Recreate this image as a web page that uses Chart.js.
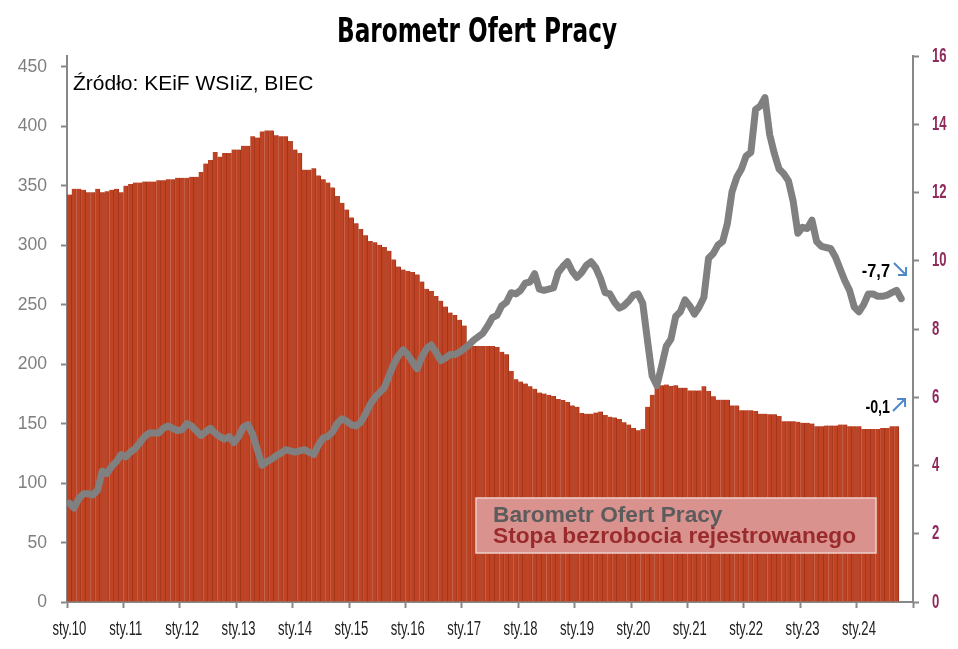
<!DOCTYPE html>
<html lang="pl">
<head>
<meta charset="utf-8">
<title>Barometr Ofert Pracy</title>
<script src="https://cdn.jsdelivr.net/npm/chart.js@4.4.1/dist/chart.umd.min.js"></script>
<style>
  html, body { margin: 0; padding: 0; background: #fff; }
  #wrap { width: 958px; height: 649px; }
</style>
</head>
<body>
<div id="wrap"><canvas id="chart" width="958" height="649"></canvas></div>
<script>
// miesiace od sty.2010, jeden wiersz = jeden rok
var firstYear = 2010;
var xTickLabels = ['sty.10', 'sty.11', 'sty.12', 'sty.13', 'sty.14', 'sty.15', 'sty.16', 'sty.17',
                   'sty.18', 'sty.19', 'sty.20', 'sty.21', 'sty.22', 'sty.23', 'sty.24'];
var leftTicks = [0, 50, 100, 150, 200, 250, 300, 350, 400, 450];
var rightTicks = [0, 2, 4, 6, 8, 10, 12, 14, 16];

// Barometr Ofert Pracy (lewa os)
var barometr = [
  83, 79, 87, 91, 91, 90, 94, 110, 108, 114, 118, 124,
  122, 126, 129, 134, 139, 142, 142, 142, 146, 148, 146, 144,
  145, 150, 148, 144, 140, 143, 146, 142, 139, 137, 139, 134,
  139, 147, 149, 141, 128, 115, 118, 120, 123, 125, 128, 127,
  126, 127, 128, 126, 124, 132, 138, 139, 143, 150, 154, 152,
  149, 148, 151, 158, 166, 172, 176, 180, 190, 200, 207, 212,
  208, 202, 196, 206, 213, 216, 210, 203, 205, 208, 208, 210,
  213, 216, 220, 223, 226, 232, 239, 241, 249, 252, 260, 259,
  262, 268, 269, 276, 263, 262, 263, 264, 277, 282, 286, 278,
  273, 277, 283, 286, 281, 272, 260, 259, 252, 247, 249, 253,
  258, 259, 251, 220, 190, 182, 198, 215, 221, 240, 244, 254,
  249, 242, 248, 256, 289, 293, 300, 303, 318, 345, 357, 364,
  375, 378, 414, 417, 424, 393, 377, 364, 360, 354, 337, 310,
  315, 314, 321, 303, 299, 298, 297, 290, 280, 270, 262, 248,
  244, 250, 259, 259, 257, 257, 258, 260, 262, 255
];

// Stopa bezrobocia rejestrowanego, % (prawa os)
var bezrobocie = [
  11.94, 12.11, 12.11, 12.08, 12.01, 12.01, 12.11, 12.01, 12.04, 12.08, 12.11, 12.01,
  12.20, 12.25, 12.29, 12.29, 12.32, 12.32, 12.32, 12.36, 12.36, 12.39, 12.39, 12.43,
  12.43, 12.43, 12.46, 12.46, 12.60, 12.85, 12.95, 13.19, 13.05, 13.16, 13.16, 13.26,
  13.26, 13.37, 13.37, 13.65, 13.61, 13.79, 13.82, 13.82, 13.68, 13.65, 13.65, 13.51,
  13.26, 13.16, 12.67, 12.67, 12.71, 12.50, 12.39, 12.29, 12.15, 11.90, 11.70, 11.50,
  11.27, 11.10, 10.93, 10.75, 10.58, 10.54, 10.47, 10.40, 10.29, 10.04, 9.83, 9.74,
  9.70, 9.67, 9.60, 9.39, 9.18, 9.11, 8.97, 8.83, 8.66, 8.48, 8.41, 8.27,
  8.10, 7.57, 7.50, 7.50, 7.50, 7.50, 7.50, 7.47, 7.33, 7.26, 6.77, 6.53,
  6.46, 6.40, 6.32, 6.25, 6.14, 6.11, 6.07, 6.04, 5.95, 5.92, 5.86, 5.76,
  5.72, 5.54, 5.52, 5.52, 5.55, 5.58, 5.48, 5.43, 5.41, 5.36, 5.27, 5.20,
  5.10, 5.03, 5.07, 5.72, 6.07, 6.32, 6.35, 6.37, 6.33, 6.35, 6.28, 6.28,
  6.20, 6.20, 6.20, 6.32, 6.18, 6.03, 5.93, 5.93, 5.93, 5.76, 5.76, 5.62,
  5.62, 5.62, 5.60, 5.52, 5.52, 5.50, 5.50, 5.45, 5.30, 5.30, 5.30, 5.28,
  5.25, 5.25, 5.23, 5.15, 5.15, 5.17, 5.17, 5.17, 5.20, 5.20, 5.15, 5.15,
  5.15, 5.07, 5.07, 5.07, 5.07, 5.10, 5.10, 5.15, 5.15
];

var seriesNames = ['Barometr Ofert Pracy', 'Stopa bezrobocia rejestrowanego'];
var changeLabels = ['-7,7', '-0,1'];   // zmiana m/m
var titleText = 'Barometr Ofert Pracy';
var sourceText = 'Źródło: KEiF WSIiZ, BIEC';

var SANS = '"Liberation Sans", Arial, sans-serif';

function toPoints(arr) {
    // punkt w srodku miesiaca
    return arr.map((v, i) => ({ x: i + 0.5, y: v }));
}

// tekst sciesniony w poziomie (brak waskiego fontu w systemie)
function narrowText(ctx, text, x, y, o) {
    ctx.save();
    ctx.font = o.font;
    ctx.fillStyle = o.color;
    ctx.textBaseline = o.baseline || 'middle';
    ctx.textAlign = 'left';
    var w = ctx.measureText(text).width * o.sx;
    var left = o.align === 'right' ? x - w : (o.align === 'center' ? x - w / 2 : x);
    ctx.translate(left, y);
    ctx.scale(o.sx, 1);
    ctx.fillText(text, 0, 0);
    ctx.restore();
}

function drawArrow(ctx, x1, y1, x2, y2) {
    var a = Math.atan2(y2 - y1, x2 - x1);
    ctx.save();
    ctx.strokeStyle = '#4f88c6';
    ctx.lineWidth = 2;
    ctx.beginPath();
    ctx.moveTo(x1, y1);
    ctx.lineTo(x2, y2);
    ctx.moveTo(x2 - 8 * Math.cos(a - 0.8), y2 - 8 * Math.sin(a - 0.8));
    ctx.lineTo(x2, y2);
    ctx.lineTo(x2 - 8 * Math.cos(a + 0.8), y2 - 8 * Math.sin(a + 0.8));
    ctx.stroke();
    ctx.restore();
}

var extras = {
    id: 'extras',
    afterDraw(chart) {
        var ctx = chart.ctx;
        var xs = chart.scales.x, ys = chart.scales.y, ys1 = chart.scales.y1;

        // etykiety osi
        xTickLabels.forEach((lab, k) => {
            narrowText(ctx, lab, xs.getPixelForValue(k * 12 + 0.5), 630,
                { font: '19.5px ' + SANS, color: '#222', sx: 0.67, align: 'center' });
        });
        leftTicks.forEach((v) => {
            narrowText(ctx, String(v), 47, ys.getPixelForValue(v),
                { font: '18.5px ' + SANS, color: '#7f7f7f', sx: 0.95, align: 'right' });
        });
        rightTicks.forEach((v) => {
            narrowText(ctx, String(v), 932, ys1.getPixelForValue(v),
                { font: 'bold 20.5px ' + SANS, color: '#8e2b5b', sx: 0.64, align: 'left' });
        });

        // tytul
        ctx.save();
        ctx.font = 'bold 34px "DejaVu Sans", ' + SANS;
        ctx.fillStyle = '#000';
        ctx.textBaseline = 'alphabetic';
        var w = ctx.measureText(titleText).width;
        ctx.translate(477, 42);
        ctx.scale(280 / w, 1);
        ctx.textAlign = 'center';
        ctx.fillText(titleText, 0, 0);
        ctx.restore();

        // zrodlo
        ctx.save();
        ctx.font = '21px ' + SANS;
        ctx.fillStyle = '#000';
        ctx.textAlign = 'left';
        ctx.fillText(sourceText, 73, 90);
        ctx.restore();

        // legenda
        ctx.save();
        ctx.fillStyle = '#d9928e';
        ctx.fillRect(476, 498, 400, 55);
        ctx.strokeStyle = '#efcfcc';
        ctx.lineWidth = 1.5;
        ctx.strokeRect(476, 498, 400, 55);
        ctx.font = 'bold 22.7px ' + SANS;
        ctx.textAlign = 'left';
        ctx.fillStyle = '#5c5c5c';
        ctx.fillText(seriesNames[0], 493, 522);
        ctx.fillStyle = '#9a2b2c';
        ctx.fillText(seriesNames[1], 493, 543);
        ctx.restore();

        // zmiany
        narrowText(ctx, changeLabels[0], 890, 277,
            { font: 'bold 19px ' + SANS, color: '#000', sx: 0.86, align: 'right', baseline: 'alphabetic' });
        narrowText(ctx, changeLabels[1], 890, 413,
            { font: 'bold 19px ' + SANS, color: '#000', sx: 0.75, align: 'right', baseline: 'alphabetic' });
        drawArrow(ctx, 894, 263, 906, 275);
        drawArrow(ctx, 893, 411, 905, 399);
    }
};

new Chart(document.getElementById('chart'), {
    type: 'bar',
    data: {
        datasets: [
            {
                type: 'line',
                label: seriesNames[0],
                data: toPoints(barometr),
                yAxisID: 'y',
                borderColor: '#808080',
                borderWidth: 7,
                borderJoinStyle: 'round',
                borderCapStyle: 'round',
                pointRadius: 0,
                tension: 0,
                order: 0
            },
            {
                type: 'bar',
                label: seriesNames[1],
                data: toPoints(bezrobocie),
                yAxisID: 'y1',
                backgroundColor: 'rgb(190, 67, 36)',
                borderColor: 'rgb(158, 50, 24)',
                borderWidth: { top: 0, right: 1, bottom: 0, left: 0 },
                barPercentage: 1,
                categoryPercentage: 1,
                order: 1
            }
        ]
    },
    options: {
        responsive: false,
        animation: false,
        devicePixelRatio: 1,
        layout: { padding: { top: 56, left: 0, right: 0, bottom: 0 } },
        plugins: {
            legend: { display: false },
            tooltip: { enabled: false }
        },
        scales: {
            x: {
                type: 'linear',
                min: 0,
                max: 180,
                offset: false,
                grid: { drawOnChartArea: false, tickLength: 6, tickWidth: 2, color: '#888', offset: false },
                border: { color: '#888', width: 2 },
                ticks: { stepSize: 12, autoSkip: false, display: false },
                afterFit: (s) => { s.height = 47; }
            },
            y: {
                position: 'left',
                min: 0,
                max: 459,
                grid: { drawOnChartArea: false, tickLength: 6, tickWidth: 2, color: '#888' },
                border: { color: '#888', width: 2 },
                ticks: { display: false },
                afterBuildTicks: (s) => { s.ticks = leftTicks.map(v => ({ value: v })); },
                afterFit: (s) => { s.width = 67; }
            },
            y1: {
                position: 'right',
                min: 0,
                max: 16,
                grid: { drawOnChartArea: false, tickLength: 6, tickWidth: 2, color: '#888' },
                border: { color: '#888', width: 2 },
                ticks: { display: false },
                afterBuildTicks: (s) => { s.ticks = rightTicks.map(v => ({ value: v })); },
                afterFit: (s) => { s.width = 45; }
            }
        }
    },
    plugins: [extras]
});
</script>
</body>
</html>
